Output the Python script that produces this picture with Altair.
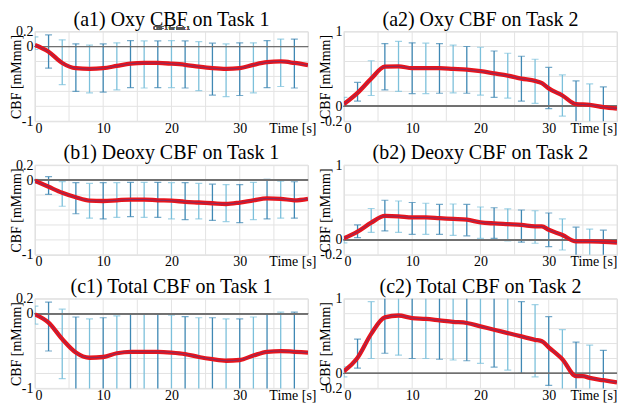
import altair as alt
import pandas as pd

SERIF = "Liberation Serif"
W, H = 274, 90
EB_DARK = "#3f88b4"
EB_LIGHT = "#7cc0db"
GRID = "#e3e3e3"

# error-bar times (s)
t_err = [0, 2, 4, 6, 8, 10, 12, 14, 16, 18, 20, 22, 24, 26, 28, 30, 32, 34, 36, 38]
x_grid = [0, 5, 10, 15, 20, 25, 30, 35, 40]

# ---------- (a1) Oxy CBF on Task 1 ----------
a1_t = [0, 2, 4, 6, 8, 10, 12, 14, 16, 18, 20, 22, 24, 26, 28, 30, 32, 34, 36, 38, 40]
a1_v = [0.02, -0.07, -0.22, -0.29, -0.30, -0.29, -0.26, -0.23, -0.22, -0.22, -0.23,
        -0.245, -0.27, -0.29, -0.30, -0.29, -0.245, -0.21, -0.20, -0.22, -0.25]
a1_hi = [0.13, 0.155, 0.09, 0.036, 0.02, 0.035, 0.05, 0.08, 0.075, 0.075, 0.08, 0.075,
         0.065, 0.045, 0.035, 0.05, 0.05, 0.08, 0.10, 0.10]
a1_lo = [-0.04, -0.29, -0.51, -0.60, -0.62, -0.61, -0.58, -0.55, -0.555, -0.55, -0.55,
         -0.555, -0.59, -0.65, -0.67, -0.655, -0.62, -0.55, -0.535, -0.555]

# ---------- (a2) Oxy CBF on Task 2 ----------
a2_t = [0, 2, 4, 6, 8, 10, 12, 14, 16, 18, 20, 22, 24, 26, 28, 29, 30, 32, 34, 36, 38, 40]
a2_v = [0.03, 0.18, 0.37, 0.53, 0.535, 0.51, 0.51, 0.51, 0.50, 0.49, 0.47, 0.44, 0.41,
        0.37, 0.34, 0.31, 0.24, 0.145, 0.03, 0.02, -0.01, -0.03]
a2_hi = [0.12, 0.32, 0.61, 0.84, 0.87, 0.85, 0.845, 0.84, 0.82, 0.80, 0.79, 0.74, 0.71,
         0.67, 0.63, 0.52, 0.42, 0.34, 0.30, 0.26]
a2_lo = [0.02, 0.07, 0.145, 0.22, 0.20, 0.17, 0.17, 0.175, 0.18, 0.175, 0.15, 0.12, 0.11,
         0.07, 0.04, -0.03, -0.13, -0.25, -0.25, -0.25]

# ---------- (b1) Deoxy CBF on Task 1 ----------
b1_t = [0, 2, 4, 6, 8, 10, 12, 14, 16, 18, 20, 22, 24, 26, 28, 30, 32, 34, 36, 38, 40]
b1_v = [-0.01, -0.09, -0.17, -0.23, -0.275, -0.28, -0.27, -0.26, -0.26, -0.27, -0.275,
        -0.29, -0.30, -0.31, -0.32, -0.30, -0.27, -0.245, -0.25, -0.27, -0.25]
b1_hi = [0.01, 0.045, -0.02, -0.035, -0.045, -0.035, -0.035, -0.03, -0.03, -0.03, -0.035,
         -0.035, -0.045, -0.055, -0.06, -0.06, -0.03, 0.01, -0.013, -0.022]
b1_lo = [-0.045, -0.19, -0.35, -0.45, -0.51, -0.52, -0.50, -0.49, -0.50, -0.50, -0.52,
         -0.53, -0.52, -0.54, -0.555, -0.57, -0.53, -0.52, -0.51, -0.51]

# ---------- (b2) Deoxy CBF on Task 2 ----------
b2_t = [0, 2, 4, 6, 8, 10, 12, 14, 16, 18, 20, 22, 24, 26, 28, 29, 30, 32, 34, 36, 38, 40]
b2_v = [0.02, 0.11, 0.23, 0.32, 0.315, 0.30, 0.30, 0.29, 0.28, 0.27, 0.235, 0.22, 0.21,
        0.20, 0.18, 0.18, 0.135, 0.065, -0.02, -0.02, -0.025, -0.035]
b2_hi = [0.05, 0.20, 0.42, 0.53, 0.52, 0.50, 0.49, 0.475, 0.48, 0.475, 0.44, 0.43, 0.415,
         0.40, 0.39, 0.36, 0.28, 0.17, 0.145, 0.13]
b2_lo = [-0.04, 0.03, 0.10, 0.12, 0.10, 0.075, 0.075, 0.075, 0.06, 0.055, 0.02, 0.02,
         -0.015, -0.03, -0.045, -0.09, -0.135, -0.25, -0.25, -0.25]

# ---------- (c1) Total CBF on Task 1 ----------
c1_t = [0, 2, 4, 6, 8, 10, 12, 14, 16, 18, 20, 22, 24, 26, 28, 30, 32, 34, 36, 38, 40]
c1_v = [-0.01, -0.12, -0.34, -0.52, -0.59, -0.58, -0.53, -0.51, -0.51, -0.51, -0.52,
        -0.54, -0.58, -0.61, -0.63, -0.62, -0.56, -0.51, -0.50, -0.51, -0.52]
c1_hi = [0.10, 0.155, 0.06, -0.045, -0.07, -0.055, -0.03, 0.0, -0.01, -0.01, -0.02, -0.04,
         -0.055, -0.055, -0.07, -0.07, -0.045, -0.01, 0.02, 0.02]
c1_lo = [-0.14, -0.50, -0.87, -1.2, -1.2, -1.2, -1.2, -1.2, -1.2, -1.2, -1.2, -1.2, -1.2,
         -1.2, -1.2, -1.2, -1.2, -1.2, -1.2, -1.2]

# ---------- (c2) Total CBF on Task 2 ----------
c2_t = [0, 2, 4, 6, 8, 10, 12, 14, 16, 18, 20, 22, 24, 26, 28, 29, 30, 32, 34, 35, 36, 38, 40]
c2_v = [0.03, 0.21, 0.53, 0.75, 0.775, 0.74, 0.73, 0.71, 0.69, 0.675, 0.63, 0.585, 0.54,
        0.495, 0.45, 0.43, 0.35, 0.19, -0.035, -0.035, -0.06, -0.09, -0.12]
c2_hi = [0.09, 0.46, 0.96, 1.2, 1.2, 1.2, 1.2, 1.2, 1.2, 1.2, 1.2, 1.2, 1.2, 0.96, 0.92,
         0.76, 0.585, 0.42, 0.38, 0.31]
c2_lo = [-0.045, 0.07, 0.20, 0.27, 0.245, 0.20, 0.20, 0.19, 0.18, 0.17, 0.135, 0.085, 0.045,
         0.0, -0.045, -0.16, -0.25, -0.25, -0.25, -0.25]

LEFT_DOM = [-1.0, 0.2]
RIGHT_DOM = [-0.2, 1.0]
LEFT_GRID = [-1.0, -0.8, -0.6, -0.4, -0.2, 0.0, 0.2]
RIGHT_GRID = [-0.2, 0.0, 0.2, 0.4, 0.6, 0.8, 1.0]
LEFT_TICKS = [-1.0, 0.0, 0.2]
RIGHT_TICKS = [-0.2, 0.0, 1.0]
LEFT_LABEL = "datum.value == 0.2 ? '0.2' : datum.value == 0 ? '0' : '-1'"
RIGHT_LABEL = "datum.value == 1 ? '1' : datum.value == 0 ? '0' : '-0.2'"


def panel(title, t_line, v_line, hi, lo, ydom, ygrid, yticks, ylabel_expr,
          time_shift, note=None):
    line_df = pd.DataFrame({"t": t_line, "v": v_line})
    err_df = pd.DataFrame({"t": t_err, "hi": hi, "lo": lo})
    yg_df = pd.DataFrame({"g": ygrid})
    xg_df = pd.DataFrame({"g": x_grid})

    x_axis = alt.Axis(values=[0, 10, 20, 30],
                      grid=False, ticks=False, tickSize=0, domain=False,
                      labelFont=SERIF, labelFontSize=14, labelColor="black", labelPadding=0,
                      labelOverlap=False,
                      title="Time [s]", titleFont=SERIF, titleFontSize=14,
                      titleFontWeight="normal", titleColor="black",
                      titleX=W + time_shift, titleY=0, titleAlign="right", titleBaseline="top")
    y_axis = alt.Axis(values=yticks, labelExpr=ylabel_expr,
                      grid=False, ticks=False, tickSize=0, domain=False,
                      labelFont=SERIF, labelFontSize=14, labelColor="black", labelPadding=2,
                      labelOverlap=False,
                      title="CBF [mMmm]", titleFont=SERIF, titleFontSize=14,
                      titleFontWeight="normal", titleColor="black",
                      titleX=-18, titleY=H / 2, titleBaseline="middle", titleAlign="center")
    xs = alt.Scale(domain=[0, 40], nice=False, zero=False)
    ys = alt.Scale(domain=ydom, nice=False, zero=False)

    X = alt.X("t:Q", scale=xs, axis=x_axis)
    shade = alt.condition("datum.t % 4 == 2", alt.value(EB_DARK), alt.value(EB_LIGHT))

    hgrid = alt.Chart(yg_df).mark_rule(color=GRID, strokeWidth=1).encode(
        y=alt.Y("g:Q", scale=ys, axis=y_axis))
    vgrid = alt.Chart(xg_df).mark_rule(color=GRID, strokeWidth=1).encode(
        x=alt.X("g:Q", scale=xs, axis=x_axis))
    bars = alt.Chart(err_df).mark_rule(strokeWidth=1.3, clip=True).encode(
        x=X, y=alt.Y("lo:Q", scale=ys, axis=y_axis), y2="hi:Q", color=shade)
    cap_hi = alt.Chart(err_df).mark_tick(thickness=1.2, size=7,
                                         orient="horizontal", clip=True).encode(
        x=X, y=alt.Y("hi:Q", scale=ys, axis=y_axis), color=shade)
    cap_lo = alt.Chart(err_df).mark_tick(thickness=1.2, size=7,
                                         orient="horizontal", clip=True).encode(
        x=X, y=alt.Y("lo:Q", scale=ys, axis=y_axis), color=shade)
    zero = alt.Chart(err_df).mark_rule(color="#707070", strokeWidth=1).encode(
        y=alt.datum(0, scale=ys))
    red = alt.Chart(line_df).mark_line(color="#e8141c", strokeWidth=4.3,
                                       interpolate="monotone", clip=True).encode(
        x=X, y=alt.Y("v:Q", scale=ys, axis=y_axis))
    core = alt.Chart(line_df).mark_line(color="#4a3c8c", strokeWidth=1, opacity=0.6,
                                        interpolate="monotone", clip=True).encode(
        x=X, y=alt.Y("v:Q", scale=ys, axis=y_axis))
    layers = [hgrid, vgrid, bars, cap_hi, cap_lo, zero, red, core]
    if note:
        layers.append(alt.Chart(err_df).mark_text(font="Liberation Sans", fontSize=5,
                                                  color="#555555", baseline="bottom").encode(
            x=alt.value(W / 2), y=alt.value(-1), text=alt.datum(note)))
    return alt.layer(*layers).properties(
        width=W, height=H,
        title=alt.TitleParams(title, font=SERIF, fontSize=20, fontWeight="normal",
                              color="black", anchor="middle", offset=-5))


pa1 = panel("(a1) Oxy CBF on Task 1", a1_t, a1_v, a1_hi, a1_lo, LEFT_DOM, LEFT_GRID,
            LEFT_TICKS, LEFT_LABEL, 8, note="CBF 1 for task 1")
pa2 = panel("(a2) Oxy CBF on Task 2", a2_t, a2_v, a2_hi, a2_lo, RIGHT_DOM, RIGHT_GRID,
            RIGHT_TICKS, RIGHT_LABEL, 0)
pb1 = panel("(b1) Deoxy CBF on Task 1", b1_t, b1_v, b1_hi, b1_lo, LEFT_DOM, LEFT_GRID,
            LEFT_TICKS, LEFT_LABEL, 8)
pb2 = panel("(b2) Deoxy CBF on Task 2", b2_t, b2_v, b2_hi, b2_lo, RIGHT_DOM, RIGHT_GRID,
            RIGHT_TICKS, RIGHT_LABEL, 0)
pc1 = panel("(c1) Total CBF on Task 1", c1_t, c1_v, c1_hi, c1_lo, LEFT_DOM, LEFT_GRID,
            LEFT_TICKS, LEFT_LABEL, 8)
pc2 = panel("(c2) Total CBF on Task 2", c2_t, c2_v, c2_hi, c2_lo, RIGHT_DOM, RIGHT_GRID,
            RIGHT_TICKS, RIGHT_LABEL, 0)

chart = alt.concat(pa1, pa2, pb1, pb2, pc1, pc2, columns=2,
                   spacing={"row": 44, "column": 36}, bounds="flush").properties(
    padding={"left": 1, "top": 0, "right": 0, "bottom": 0}
).configure_view(stroke="#c4c4c4", strokeWidth=1).configure(background="white")

chart.save("out.html", embed_options={"renderer": "svg", "actions": False})
